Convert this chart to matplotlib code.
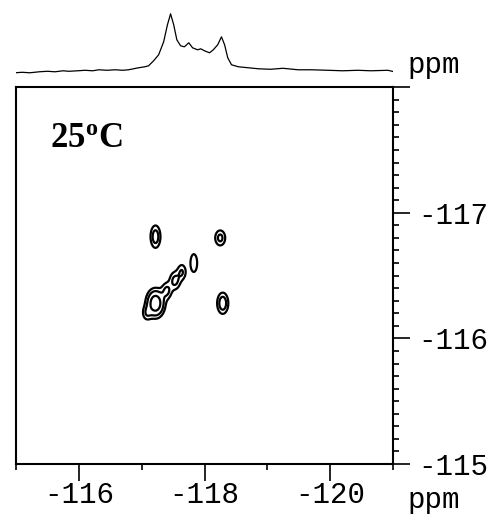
# 2D 19F NMR contour map (25 C) with 1D projection on top
import numpy as np
import matplotlib.pyplot as plt

plt.rcParams['axes.unicode_minus'] = False
plt.rcParams['mathtext.fontset'] = 'custom'
plt.rcParams['mathtext.rm'] = 'Liberation Serif:bold'

# 1D projection (ppm, intensity)
proj_ppm = [-114.98, -115.10, -115.22, -115.37, -115.50, -115.62, -115.75, -115.84,
            -115.98, -116.10, -116.22, -116.32, -116.45, -116.58, -116.70, -116.79,
            -116.87, -116.95, -117.05, -117.11, -117.19, -117.27, -117.35, -117.41,
            -117.46, -117.51, -117.56, -117.62, -117.68, -117.75, -117.81, -117.89,
            -117.94, -118.00, -118.08, -118.14, -118.21, -118.27, -118.32, -118.37,
            -118.43, -118.54, -118.70, -118.86, -119.05, -119.25, -119.49, -119.70,
            -119.97, -120.20, -120.44, -120.65, -120.92, -121.05]
proj_int = [5, 5.5, 5, 6, 6.5, 6, 7, 6.5,
            7, 7.5, 7, 8, 7.5, 8, 7.5, 8,
            9, 10, 11, 12, 17, 23, 36, 53,
            64, 53, 38, 32, 31, 35, 30, 28,
            29, 27, 25, 28, 33, 41, 33, 20,
            13, 11, 10, 9, 8.5, 9.5, 8, 8,
            7.5, 7, 7.5, 7, 7.5, 5.5]

# cross peaks: centre (F2, F1), widths and heights
pk_x = [-117.22, -118.25, -118.29, -117.22, -117.08, -117.40, -117.53, -117.64, -117.83]
pk_y = [-116.81, -116.80, -116.28, -116.28, -116.20, -116.38, -116.46, -116.53, -116.60]
pk_sx = [0.055, 0.060, 0.060, 0.085, 0.05, 0.055, 0.060, 0.050, 0.045]
pk_sy = [0.062, 0.045, 0.057, 0.065, 0.04, 0.045, 0.050, 0.045, 0.060]
pk_amp = [1.4, 1.2, 1.5, 3.0, 0.8, 1.1, 1.2, 1.0, 1.0]
levels = [0.5, 1.0, 2.0]

xs = np.linspace(-114.9, -121.1, 700)
ys = np.linspace(-114.9, -118.1, 500)
X, Y = np.meshgrid(xs, ys)
Z = np.zeros_like(X)
for cx, cy, sx, sy, a in zip(pk_x, pk_y, pk_sx, pk_sy, pk_amp):
    Z += a * np.exp(-((X - cx)**2 / (2*sx**2) + (Y - cy)**2 / (2*sy**2)))

fig = plt.figure(figsize=(5, 5.22), dpi=100)
ax = fig.add_axes([0.032, 0.111, 0.754, 0.722])
top = fig.add_axes([0.032, 0.851, 0.754, 0.134], sharex=ax)

ax.contour(X, Y, Z, levels=levels, colors='k', linewidths=1.6)
ax.set_xlim(-115, -121)
ax.set_ylim(-115, -118)

mono = 'Liberation Mono'
ax.set_xticks([-116, -118, -120])
ax.set_xticklabels(['-116', '-118', '-120'], fontfamily=mono, fontsize=21)
ax.set_xticks([-115, -117, -119, -121], minor=True)
ax.yaxis.tick_right()
ax.set_yticks([-118, -117, -116, -115])
ax.set_yticklabels(['', '-117', '-116', '-115'], fontfamily=mono, fontsize=21)
ax.set_yticks(np.arange(-118, -114.95, 0.1), minor=True)
ax.tick_params(axis='both', which='major', length=12, width=1.2, direction='out', pad=6)
ax.tick_params(axis='both', which='minor', length=4.3, width=1.2, direction='out')
ax.tick_params(axis='x', which='major', pad=0.5)
for s in ax.spines.values():
    s.set_linewidth(1.5)

ax.text(0.09, 0.84, r'$\mathrm{25^{o}C}$', transform=ax.transAxes, fontsize=25)
fig.text(0.868, 0.875, 'ppm', fontfamily=mono, fontsize=21, ha='center', va='center')
fig.text(0.868, 0.042, 'ppm', fontfamily=mono, fontsize=21, ha='center', va='center')

top.plot(proj_ppm, proj_int, color='k', linewidth=0.9)
top.set_ylim(0, 70)
top.axis('off')

fig.savefig('out.png', dpi=100)
